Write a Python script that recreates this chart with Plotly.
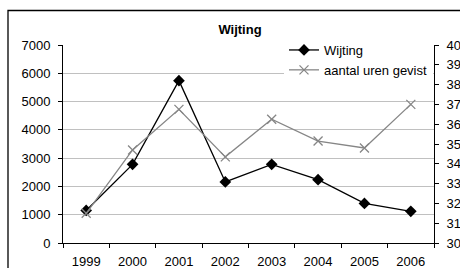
import plotly.graph_objects as go

years = ["1999", "2000", "2001", "2002", "2003", "2004", "2005", "2006"]
wijting = [1150, 2780, 5740, 2160, 2780, 2240, 1400, 1120]
uren = [31.5, 34.7, 36.75, 34.35, 36.25, 35.15, 34.8, 37.0]

FONT = "Liberation Sans Narrow, Arial Narrow, Liberation Sans, Arial"
SIZE = 13
W, H = 460, 268
L, R, T, B = 63, 434, 45, 243  # plot area in pixels

fig = go.Figure()
fig.add_trace(go.Scatter(
    x=years, y=wijting, name="Wijting", mode="lines+markers",
    line=dict(color="black", width=1.3),
    marker=dict(symbol="diamond", size=9, color="black"),
))
fig.add_trace(go.Scatter(
    x=years, y=uren, name="aantal uren gevist", mode="lines+markers", yaxis="y2",
    line=dict(color="#868686", width=1.3),
    marker=dict(symbol="x-thin-open", size=9, line=dict(color="#868686", width=1.3)),
))

fig.update_layout(
    width=W, height=H,
    margin=dict(l=0, r=0, t=0, b=0, autoexpand=False),
    paper_bgcolor="white", plot_bgcolor="white",
    font=dict(family=FONT, size=SIZE, color="black"),
    title=dict(text="<b>Wijting</b>", x=240 / W, xanchor="center", y=1 - 29 / H, yanchor="middle",
               font=dict(family=FONT, size=SIZE, color="black")),
    showlegend=True,
    legend=dict(x=284 / W, y=1 - 35 / H, xanchor="left", yanchor="top", bgcolor="white",
                borderwidth=0, font=dict(family=FONT, size=SIZE), itemwidth=30,
                tracegroupgap=0),
    xaxis=dict(type="category", domain=[L / W, R / W], automargin=False,
               showline=True, linecolor="black", linewidth=1,
               ticks="outside", ticklen=4, tickcolor="black", tickson="boundaries",
               ticklabelstandoff=6,
               showgrid=False, zeroline=False, range=[-0.5, 7.5]),
    yaxis=dict(range=[0, 7000], dtick=1000, domain=[1 - B / H, 1 - T / H], automargin=False,
               showline=True, linecolor="black", linewidth=1,
               ticks="outside", ticklen=4, tickcolor="black", ticklabelstandoff=5,
               showgrid=True, gridcolor="#c0c0c0", gridwidth=1, zeroline=False),
    yaxis2=dict(range=[30, 40], dtick=1, overlaying="y", side="right", automargin=False,
                showline=True, linecolor="black", linewidth=1,
                ticks="outside", ticklen=4, tickcolor="black", ticklabelstandoff=5,
                showgrid=False, zeroline=False),
)

fig.add_shape(type="rect", xref="paper", yref="paper",
              x0=8 / W, x1=1.2, y0=-0.5, y1=1 - 10.5 / H,
              line=dict(color="black", width=1.3), fillcolor="rgba(0,0,0,0)", layer="above")

fig.write_html("out.html", config={"displayModeBar": False},
               post_script="document.body.style.margin='0';document.body.style.overflow='hidden';")
